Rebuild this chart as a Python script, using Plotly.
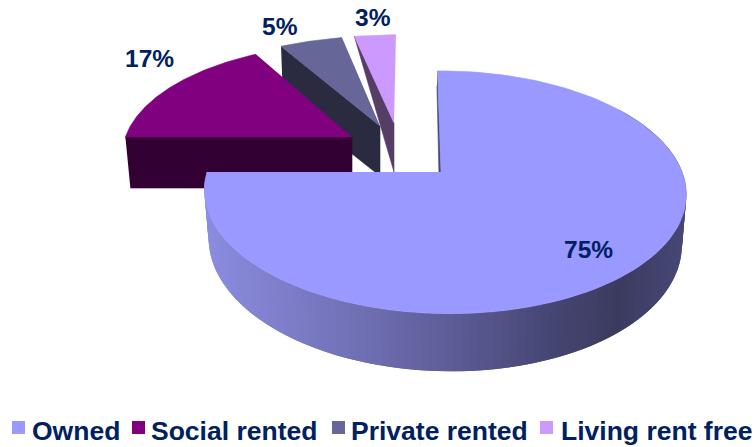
import numpy as np
import plotly.graph_objects as go

categories = ["Owned", "Social rented", "Private rented", "Living rent free"]
shares = [75, 17, 5, 3]
top_colors = ["#9999FF", "#800080", "#666699", "#CC99FF"]
edge_wall_colors = ["#46467C", "#330033", "#2A2A40", "#553D66"]

# projection of each exploded slice: apex x, apex y, x radius, y radius, skew
apex_x = [441, 352, 380, 394]
apex_y = [172, 137, 126, 123]
rad_x = [237.5, 230, 237, 259]
rad_y = [118, 109, 105, 103]
skew = [-4, 0, 0, 2.3]
# extrusion: shrink toward apex, wall height
shrink = [0.982, 0.978, 0.98, 1.0]
wall_h = [48, 51, 50, 49]
# wall along each slice's cut edge: height at the outer end
edge_outer_h = [15, 51, 53, 0]
edge_outer_dx = [-0.7, 0, 0, 0]
persp_y, persp_x = 0.167, 0.015

label_pos = [(588, 249), (149, 58), (280, 26), (373, 17)]
legend_key_x = [12, 132, 332, 540]
legend_text_x = [30, 149, 349, 559]

grad_x = [205, 330, 445, 560, 620, 690]
grad_r = [0x8C, 0x75, 0x5E, 0x44, 0x3B, 0x48]
grad_g = grad_r
grad_b = [0xE0, 0xBC, 0x9A, 0x70, 0x60, 0x78]


def project(i, theta):
    X, Y = np.sin(theta), np.cos(theta)
    s = 1 / (1 + persp_y * Y - persp_x * X)
    return (apex_x[i] + (rad_x[i] * X + skew[i] * Y) * s,
            apex_y[i] - rad_y[i] * Y * s, s)


def drop(i, px, py, s):
    return apex_x[i] + (px - apex_x[i]) * shrink[i], py + wall_h[i] * s


def poly(xs, ys, color, width=0.6):
    return go.Scatter(x=list(xs), y=list(ys), mode="lines", fill="toself",
                      fillcolor=color, line=dict(color=color, width=width),
                      hoverinfo="skip", showlegend=False)


fractions = np.array(shares) / sum(shares) * 2 * np.pi
ends = np.cumsum(fractions)
starts = ends - fractions

fig = go.Figure()

for i in [2, 3, 1, 0]:  # back pieces first, Owned on top
    a0, a1 = starts[i], ends[i]
    ox, oy, _ = project(i, a0)
    wx = [ox, apex_x[i],
          apex_x[i] if i != 0 else apex_x[i] - 1,
          apex_x[i] + (ox - apex_x[i]) * shrink[i] + edge_outer_dx[i]]
    wy = [oy, apex_y[i], apex_y[i] + wall_h[i], oy + edge_outer_h[i]]
    fig.add_trace(poly(wx, wy, edge_wall_colors[i]))

    if i == 0:
        # curved rim of Owned with its horizontal shading; strips overlap to hide seams
        ts = np.linspace(np.radians(55), a1, 130)
        for k in range(len(ts) - 1):
            seg = ts[k:k + 3]
            x, y, s = project(i, seg)
            bx, by = drop(i, x, y, s)
            mid = float(np.mean(x[:2]))
            r = int(round(np.interp(mid, grad_x, grad_r)))
            b = int(round(np.interp(mid, grad_x, grad_b)))
            fig.add_trace(poly(np.r_[x, bx[::-1]], np.r_[y, by[::-1]],
                               f"rgb({r},{r},{b})", width=0))

    ts = np.linspace(a0, a1, 120)
    px, py, _ = project(i, ts)
    fig.add_trace(poly(np.r_[apex_x[i], px], np.r_[apex_y[i], py], top_colors[i]))

annotations = []
for share, (lx, ly) in zip(shares, label_pos):
    annotations.append(dict(x=lx, y=ly, xref="x", yref="y", text=f"{share}%",
                            showarrow=False, xanchor="center", yanchor="middle",
                            font=dict(family="Liberation Sans", size=24.5,
                                      color="#002060", weight="bold")))
shapes = []
for name, color, kx, tx in zip(categories, top_colors, legend_key_x, legend_text_x):
    shapes.append(dict(type="rect", xref="x", yref="y", x0=kx, x1=kx + 13,
                       y0=421, y1=434, fillcolor=color, line=dict(width=0)))
    annotations.append(dict(x=tx, y=431, xref="x", yref="y", text=name,
                            showarrow=False, xanchor="left", yanchor="middle",
                            font=dict(family="Liberation Sans", size=26.5,
                                      color="#002060", weight="bold")))

fig.update_layout(
    width=756, height=447, autosize=False,
    margin=dict(l=0, r=0, t=0, b=0),
    paper_bgcolor="white", plot_bgcolor="white",
    showlegend=False,
    xaxis=dict(range=[0, 756], visible=False, fixedrange=True),
    yaxis=dict(range=[447, 0], visible=False, fixedrange=True),
    annotations=annotations, shapes=shapes,
)
fig.write_html("out.html", config=dict(displayModeBar=False),
               post_script="document.body.style.margin='0';document.documentElement.style.overflow='hidden';")
